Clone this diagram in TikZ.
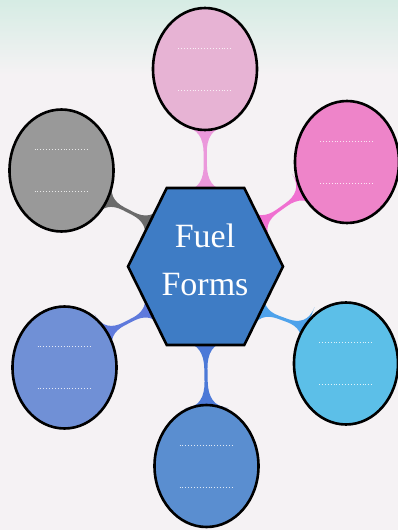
\documentclass[tikz,border=0pt]{standalone}
\usepackage{fontspec}
\setmainfont{Liberation Serif}
\usetikzlibrary{shapes.geometric,calc}
\pgfdeclarelayer{background}
\pgfsetlayers{background,main}
\definecolor{pagewhite}{HTML}{F5F2F4}
\definecolor{pagemint}{HTML}{D6ECE4}
\definecolor{hexblue}{HTML}{3E7CC5}
\definecolor{toppink}{HTML}{E7B3D4}
\definecolor{hotpink}{HTML}{EE84C9}
\definecolor{stonegray}{HTML}{999999}
\definecolor{periwinkle}{HTML}{7090D6}
\definecolor{skycyan}{HTML}{5CBFE8}
\definecolor{midblue}{HTML}{5A8ED0}
\tikzset{
	bubble/.style={ellipse, draw=black, line width=2.6pt, minimum width=104pt, minimum height=122pt, inner sep=0pt},
	fillline/.style={white, line width=0.9pt, dotted, opacity=0.8},
}
% connector with flared ends: #1 from, #2 to, #3 colour
\newcommand{\flarelink}[3]{%
	\path (#1) coordinate (fa0) (#2) coordinate (fb0);
	\coordinate (fa) at ($(fa0)!-4pt!(fb0)$);
	\coordinate (fb) at ($(fb0)!-4pt!(fa0)$);
	\fill[#3] ($(fa)!22pt!90:(fb)$)
		.. controls ($(fa)!7pt!90:(fb)$) and ($(fa)!0.18!(fb)!1.6pt!90:(fb)$) .. ($(fa)!0.4!(fb)!1.6pt!90:(fb)$)
		-- ($(fa)!0.6!(fb)!1.6pt!90:(fb)$)
		.. controls ($(fa)!0.82!(fb)!1.6pt!90:(fb)$) and ($(fb)!7pt!-90:(fa)$) .. ($(fb)!22pt!-90:(fa)$)
		-- ($(fb)!22pt!90:(fa)$)
		.. controls ($(fb)!7pt!90:(fa)$) and ($(fa)!0.82!(fb)!1.6pt!-90:(fb)$) .. ($(fa)!0.6!(fb)!1.6pt!-90:(fb)$)
		-- ($(fa)!0.4!(fb)!1.6pt!-90:(fb)$)
		.. controls ($(fa)!0.18!(fb)!1.6pt!-90:(fb)$) and ($(fa)!7pt!-90:(fb)$) .. ($(fa)!22pt!-90:(fb)$)
		-- cycle;
}

\begin{document}
\begin{tikzpicture}[x=1pt, y=-1pt]
	\useasboundingbox (0,0) rectangle (398,530);
	\node[regular polygon, regular polygon sides=6, minimum size=155pt, inner sep=0pt, yscale=1.17, draw=black, line width=2.6pt, fill=hexblue](hex) at (205.5,266.5){};
	\node[align=center, text=white, font=\fontsize{34}{48}\selectfont](hextext) at (205,260){Fuel\\Forms};
	\node[bubble, fill=toppink](ctop) at (205,69){};
	\node[bubble, fill=stonegray](cgray) at (61.5,170.5){};
	\node[bubble, fill=hotpink](cpink) at (347,162){};
	\node[bubble, fill=periwinkle](cleft) at (64.5,367.5){};
	\node[bubble, fill=skycyan](ccyan) at (346,363.5){};
	\node[bubble, fill=midblue](cbottom) at (206.5,466){};
	% write-in lines
	\foreach \c in {ctop,cgray,cpink,cleft,ccyan,cbottom}{
		\draw[fillline] ($(\c)+(-27,-21)$) -- ($(\c)+(27,-21)$);
		\draw[fillline] ($(\c)+(-27,21)$) -- ($(\c)+(27,21)$);
	}
	\begin{pgfonlayer}{background}
		\fill[pagewhite] (0,0) rectangle (398,530);
		\shade[top color=pagemint, bottom color=pagewhite] (0,0) rectangle (398,75);
		\flarelink{hex.90}{ctop.270}{toppink!85!magenta}
		\flarelink{hex.34}{cpink.215}{hotpink!85!magenta}
		\flarelink{hex.146}{cgray.-33}{stonegray!70!black}
		\flarelink{hex.214}{cleft.39}{periwinkle!85!blue}
		\flarelink{hex.-34}{ccyan.139}{skycyan!85!blue}
		\flarelink{hex.270}{cbottom.90}{midblue!85!blue}
	\end{pgfonlayer}
\end{tikzpicture}
\end{document}
